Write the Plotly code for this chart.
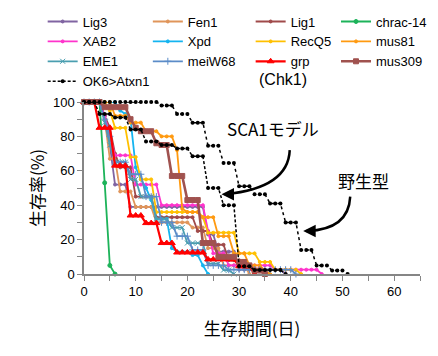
import plotly.graph_objects as go

# ---- data (survival %, one value per day starting at day 0) ----
wild_type = [100,100,100,100,100,100,100,100,100,100,100,100,100,100,100,
             98,98,98,93,93,93,88,88,88,74.5,74.5,74.5,64.5,64.5,64.5,
             51,51,51,46.4,46.4,46.4,41,41,41,30,30,30,14,14,14,5,5,5,2,2,2,0]
ok6_atxn1 = [100,100,100,93,93,93,91,91,91,84,84,84,77,77,77,75,75,75,
             73,73,73,68.5,68.5,68.5,50,50,50,40,40,40,4.5,4.5,4.5,
             2.3,2.3,2.3,2.3,2.3,2.3,0]
lig3 = [100,100,100,100,92,75,52,52,52,39,39,39,39,39,39,39,39,39,39,39,39,39,39,39,
        23,23,13,13,13,13,2.5,2.5,2.5,2.5,2.5,2.5,2.5,2.5,2.5,0]
fen1 = [100,100,100,100,90,67,67,48,48,48,39,39,39,39,30,30,30,30,30,30,30,
        27,27,27,15,15,15,5,5,5,5,5,0]
lig1 = [100,100,100,100,92,85,70,62,62,62,45,45,45,45,33,33,33,33,33,33,33,33,
        25,25,25,17,17,17,8,8,8,3,3,3,3,0]
chrac14 = [100,100,100,100,53,5,0]
xab2 = [100,100,100,100,92,80,69,69,69,69,52,52,52,52,52,40,40,40,40,40,40,40,40,40,
        25,12,12,12,5,5,5,5,5,5,5,5,5,2.5,2.5,2.5,2.5,2.5,2.5,2.5,2.5,2.5,0]
xpd = [100,100,100,100,100,100,100,95,93,90,62,55,50,43,32,32,32,15,13,13,13,11,11,5,0]
recq5 = [100,100,100,100,100,95,85,85,85,68,68,55,55,55,36,36,36,36,36,36,36,36,36,33,
         24,24,24,24,24,24,12,12,12,12,7,7,7,2.5,2.5,2.5,2.5,2.5,0]
mus81 = [100,100,100,100,100,100,92,92,92,88,88,88,83,83,83,80,80,80,72,38,36,36,36,
         33,33,33,22,22,22,12,12,12,5,5,5,2,0]
eme1 = [100,100,100,100,88,75,65,65,65,55,55,45,45,45,32,32,32,27,27,27,18,18,18,18,
        6,6,6,2.3,2.3,0]
meiw68 = [100,100,100,100,90,80,65,65,65,58,58,58,45,45,45,30,30,30,22,22,22,14,14,14,
          5,5,5,5,2.5,2.5,2.5,2.5,2.5,2.5,2.5,2.5,2.5,2.5,2.5,2.5,2.5,0]
grp = [100,100,100,85,85,85,63,63,63,34,34,34,29.6,29.6,29.6,18,18,18,
       12.5,12.5,12.5,12.5,12.5,12.5,8.5,8.5,8.5,8.5,8.5,8.5,4.5,4.5,4.5,0]
mus309 = [100,100,100,100,97,97,97,97,97,90,85,83,83,83,76,75,75,57,57,57,43,43,43,
          18,18,18,10,10,10,10,7,7,5,2,2,0]

# name, values, colour, marker, marker size, line width, legend column
series = [
    ("Lig3", lig3, "#8064A2", "circle", 3, 1.8, "legend"),
    ("Fen1", fen1, "#E0955A", "circle", 3, 1.8, "legend2"),
    ("Lig1", lig1, "#A04A4A", "circle", 3, 1.8, "legend3"),
    ("chrac-14", chrac14, "#1DB35A", "circle", 4, 1.8, "legend4"),
    ("XAB2", xab2, "#FF33CC", "circle", 3, 1.8, "legend"),
    ("Xpd", xpd, "#14B4F0", "circle", 3, 1.8, "legend2"),
    ("RecQ5", recq5, "#FFC000", "circle", 3, 1.8, "legend3"),
    ("mus81", mus81, "#FF9A10", "circle", 3, 1.8, "legend4"),
    ("EME1", eme1, "#4A9EB0", "x-thin", 5, 1.8, "legend"),
    ("meiW68", meiw68, "#5B8CC8", "cross-thin", 5, 1.8, "legend2"),
    ("grp", grp, "#FF0000", "triangle-up", 6, 2.2, "legend3"),
    ("mus309", mus309, "#A0524F", "square", 5, 2.6, "legend4"),
]

FONT = "Liberation Sans, Arial, Noto Sans CJK JP"
JP = "Noto Sans CJK JP, Liberation Sans"

fig = go.Figure()
for name, vals, col, sym, ms, lw, lg in series:
    fig.add_trace(go.Scatter(
        x=list(range(len(vals))), y=vals, name=name, mode="lines+markers",
        line=dict(color=col, width=lw), legend=lg,
        marker=dict(symbol=sym, size=ms, color=col, line=dict(color=col, width=1)),
        cliponaxis=False))

fig.add_trace(go.Scatter(
    x=list(range(len(ok6_atxn1))), y=ok6_atxn1, name="OK6>Atxn1", mode="lines+markers",
    line=dict(color="black", width=1.5, dash="3px,2px"), legend="legend",
    marker=dict(symbol="circle", size=4, color="black"), cliponaxis=False))
fig.add_trace(go.Scatter(
    x=list(range(len(wild_type))), y=wild_type, name="wild type", mode="lines+markers",
    line=dict(color="black", width=1.5, dash="dot"),
    marker=dict(symbol="circle", size=4, color="black"), cliponaxis=False,
    showlegend=False))

# curved arrows
fig.add_shape(type="path", path="M 39.8,72 Q 39.5,50 27.4,46.4",
              xref="x", yref="y", line=dict(color="black", width=2.5))
fig.add_shape(type="path", path="M 51.5,45 Q 51.2,26 43.2,25",
              xref="x", yref="y", line=dict(color="black", width=2.5))
fig.add_annotation(x=26.6, y=46.4, ax=10, ay=0, text="", showarrow=True,
                   arrowhead=2, arrowsize=1, arrowwidth=2.5, arrowcolor="black")
fig.add_annotation(x=42.4, y=25, ax=10, ay=0, text="", showarrow=True,
                   arrowhead=2, arrowsize=1, arrowwidth=2.5, arrowcolor="black")

fig.add_annotation(x=36.5, y=84.5, text="SCA1モデル", showarrow=False,
                   font=dict(family=JP, size=17, color="black"))
fig.add_annotation(x=54.1, y=54.5, text="野生型", showarrow=False,
                   font=dict(family=JP, size=17, color="black"))
fig.add_annotation(x=0.592, y=1.192, xref="paper", yref="paper", text="(Chk1)",
                   showarrow=False, font=dict(family=FONT, size=16, color="black"))

axis_common = dict(showgrid=False, zeroline=False, showline=True, automargin=False,
                   linecolor="#868686", linewidth=1.5, ticks="outside",
                   tickcolor="#868686", ticklen=5, tickwidth=1,
                   tickfont=dict(family=FONT, size=13, color="black"))

fig.update_xaxes(range=[0, 65], dtick=10, tick0=0,
                 minor=dict(dtick=5, ticks="outside", ticklen=5, tickcolor="#868686"),
                 title=dict(text="生存期間(日)", font=dict(family=JP, size=17, color="black"),
                            standoff=25),
                 **axis_common)
fig.update_yaxes(range=[0, 100], dtick=20, tick0=0,
                 minor=dict(dtick=10, ticks="outside", ticklen=5, tickcolor="#868686"),
                 title=dict(text="生存率(%)", font=dict(family=JP, size=17, color="black"),
                            standoff=4),
                 **axis_common)

leg = dict(orientation="v", yanchor="top", xanchor="left", y=1.555,
           font=dict(family=FONT, size=13, color="black"),
           bgcolor="rgba(0,0,0,0)", itemwidth=30, tracegroupgap=0)
fig.update_layout(
    width=430, height=348,
    margin=dict(l=76, r=18, t=94, b=82, autoexpand=False),
    paper_bgcolor="white", plot_bgcolor="white",
    showlegend=True,
    legend=dict(leg, x=-0.123),
    legend2=dict(leg, x=0.190),
    legend3=dict(leg, x=0.496),
    legend4=dict(leg, x=0.750),
)

fig.write_html("out.html")
